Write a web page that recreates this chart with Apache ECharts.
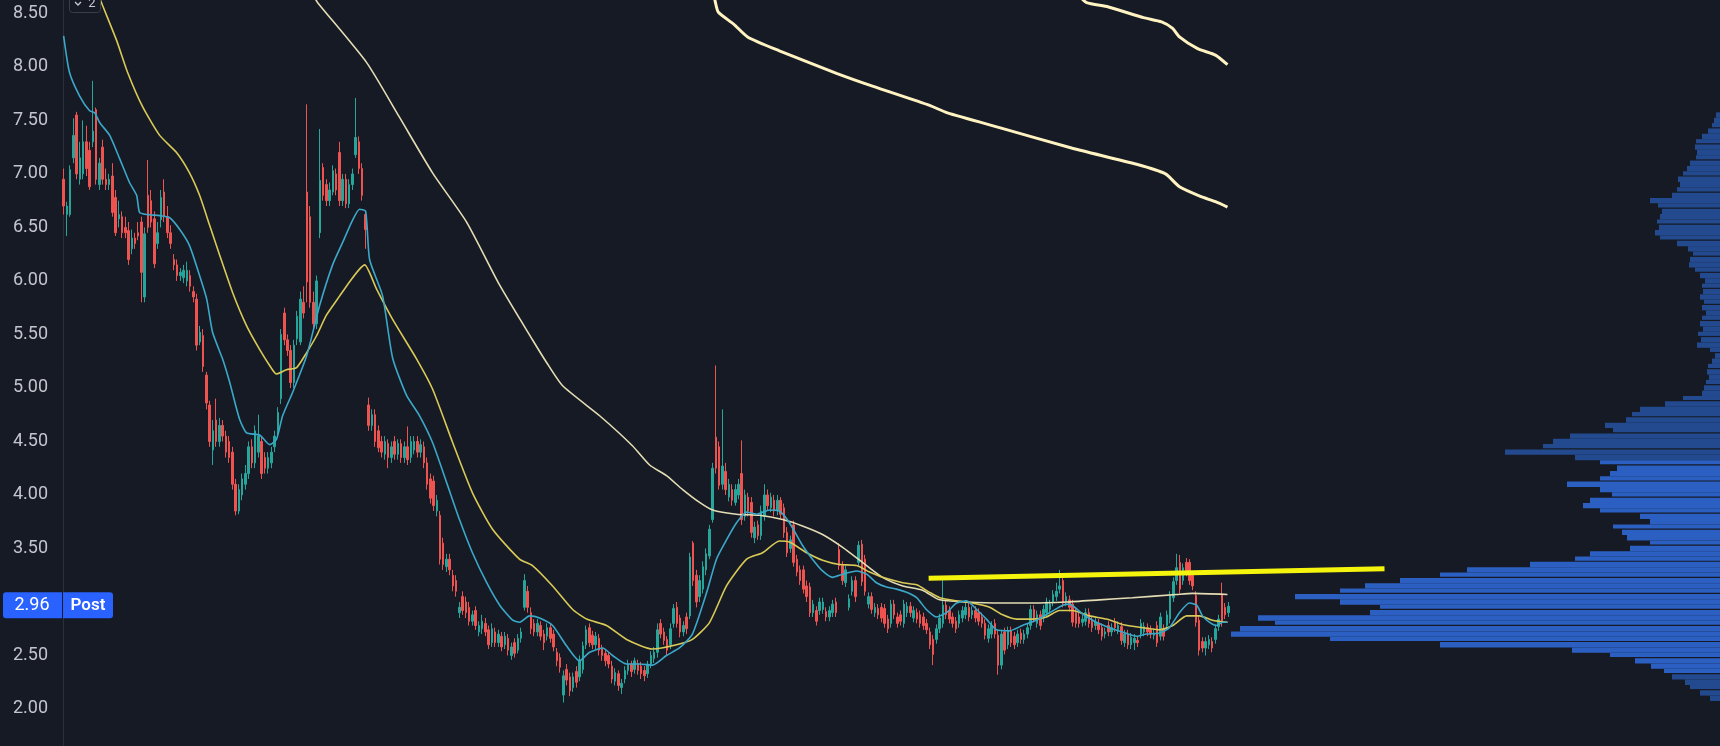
<!DOCTYPE html>
<html><head><meta charset="utf-8">
<script src="https://cdn.jsdelivr.net/npm/echarts@6/dist/echarts.min.js"></script>
<style>html,body{margin:0;padding:0;background:#161a25;}#c{width:1720px;height:746px;}</style>
</head><body><div id="c"></div>
<script>
// ---- price scale (tick labels every 0.50) ----
const priceMin = 1.5, priceMax = 8.625, priceStep = 0.5;
const slotCount = 511;               // time slots on the x axis (candles + empty future space)
const lastPrice = 2.96;
const sessionTag = 'Post';
const paneBadge = '2';

// ---- candles: [open, close, low, high] ----
const candles = [
[6.95,6.70,6.62,7.05],[6.62,6.70,6.42,6.74],[6.62,7.04,6.60,7.08],[7.15,7.36,7.10,7.52],[7.55,7.00,6.95,7.58],
[6.95,7.15,6.90,7.30],[7.00,7.30,6.95,7.50],[7.30,7.05,6.98,7.45],[7.22,6.88,6.85,7.30],[7.30,7.40,7.25,7.87],
[7.60,6.95,6.90,7.62],[6.90,7.10,6.85,7.15],[7.25,6.95,6.90,7.32],[6.95,6.90,6.85,7.05],[6.90,6.95,6.85,7.00],
[6.98,6.64,6.60,7.10],[6.78,6.45,6.42,6.85],[6.58,6.62,6.50,6.75],[6.60,6.45,6.40,6.65],[6.50,6.45,6.40,6.60],
[6.47,6.20,6.15,6.55],[6.30,6.40,6.25,6.48],[6.40,6.35,6.30,6.45],[6.45,6.42,6.38,6.55],[6.55,6.08,5.80,6.60],
[5.85,6.44,5.80,6.50],[6.80,6.50,6.45,7.13],[6.75,6.55,6.50,6.85],[6.58,6.16,6.12,6.65],[6.35,6.45,6.30,6.55],
[6.57,6.78,6.50,6.85],[6.83,6.60,6.55,6.95],[6.60,6.45,6.40,6.70],[6.45,6.35,6.30,6.52],[6.20,6.15,6.10,6.25],
[6.15,6.05,6.00,6.20],[6.05,6.08,6.00,6.12],[6.03,6.10,5.98,6.15],[6.00,6.10,5.95,6.18],[6.05,5.95,5.90,6.10],
[5.90,5.85,5.80,5.95],[5.83,5.40,5.35,5.88],[5.43,5.52,5.40,5.58],[5.49,5.20,5.15,5.55],[5.12,4.86,4.80,5.15],
[4.84,4.50,4.45,4.88],[4.42,4.60,4.28,4.70],[4.70,4.50,4.45,4.90],[4.50,4.65,4.45,4.72],[4.65,4.55,4.50,4.70],
[4.55,4.40,4.35,4.60],[4.50,4.35,4.30,4.55],[4.40,4.10,4.05,4.45],[4.10,3.85,3.81,4.15],[3.85,4.05,3.82,4.10],
[4.00,4.15,3.95,4.20],[4.10,4.20,4.05,4.28],[4.20,4.45,4.15,4.50],[4.45,4.30,4.25,4.52],[4.30,4.60,4.25,4.65],
[4.40,4.55,4.35,4.75],[4.50,4.20,4.15,4.55],[4.35,4.25,4.20,4.40],[4.25,4.35,4.20,4.40],[4.30,4.40,4.25,4.45],
[4.45,4.55,4.40,4.60],[4.60,4.77,4.55,4.82],[4.90,5.50,4.85,5.55],[5.70,5.45,5.40,5.75],[5.45,5.35,5.30,5.50],
[5.35,5.05,5.00,5.40],[5.05,5.40,5.00,5.45],[5.46,5.67,5.40,5.72],[5.43,5.83,5.40,5.90],[5.80,5.70,5.65,5.95],
[6.83,5.99,5.80,7.65],[6.60,5.80,5.75,6.70],[5.80,5.60,5.55,5.90],[5.60,6.00,5.55,6.05],[6.45,6.94,6.40,7.42],
[7.06,6.80,6.75,7.10],[6.90,6.75,6.70,6.95],[6.75,6.85,6.70,6.92],[6.83,7.03,6.80,7.08],[7.00,6.85,6.80,7.05],
[7.20,6.75,6.70,7.30],[6.75,6.95,6.70,7.00],[6.95,6.72,6.68,7.00],[6.72,6.90,6.68,6.95],[6.90,7.00,6.85,7.05],
[7.18,7.34,7.15,7.71],[7.30,7.05,7.00,7.35],[7.05,6.80,6.75,7.10],[6.62,6.48,6.30,6.66],[4.84,4.65,4.60,4.91],
[4.65,4.75,4.60,4.80],[4.75,4.50,4.45,4.80],[4.60,4.44,4.40,4.65],[4.50,4.40,4.35,4.55],[4.38,4.50,4.33,4.55],
[4.48,4.35,4.25,4.52],[4.35,4.45,4.30,4.50],[4.50,4.38,4.33,4.55],[4.38,4.48,4.33,4.52],[4.48,4.35,4.30,4.52],
[4.35,4.45,4.30,4.50],[4.45,4.33,4.28,4.64],[4.35,4.50,4.30,4.55],[4.42,4.50,4.38,4.55],[4.50,4.40,4.35,4.55],
[4.40,4.47,4.35,4.52],[4.45,4.30,4.25,4.50],[4.30,4.10,4.05,4.35],[4.15,3.97,3.92,4.20],[4.13,3.90,3.85,4.18],
[3.85,3.95,3.80,4.00],[3.81,3.40,3.35,3.85],[3.55,3.35,3.30,3.60],[3.33,3.40,3.28,3.45],[3.40,3.30,3.25,3.45],
[3.25,3.15,3.10,3.30],[3.20,3.10,3.05,3.25],[2.90,2.95,2.85,3.00],[3.05,2.92,2.88,3.10],[3.00,2.90,2.85,3.05],
[2.95,2.82,2.78,3.00],[2.82,2.88,2.78,2.92],[2.92,2.78,2.74,2.96],[2.72,2.78,2.68,2.82],[2.75,2.82,2.70,2.88],
[2.80,2.72,2.68,2.85],[2.74,2.60,2.56,2.78],[2.62,2.75,2.58,2.80],[2.72,2.62,2.58,2.76],[2.62,2.70,2.58,2.74],
[2.68,2.58,2.54,2.72],[2.60,2.68,2.56,2.72],[2.66,2.55,2.50,2.70],[2.50,2.58,2.46,2.62],[2.62,2.52,2.48,2.66],
[2.55,2.66,2.52,2.70],[2.66,2.72,2.62,2.76],[2.95,3.20,2.92,3.26],[3.10,2.95,2.90,3.15],[2.90,2.75,2.70,2.95],
[2.80,2.72,2.68,2.84],[2.72,2.80,2.68,2.84],[2.78,2.68,2.64,2.82],[2.70,2.62,2.55,2.74],[2.68,2.76,2.64,2.80],
[2.76,2.66,2.62,2.80],[2.70,2.58,2.54,2.74],[2.53,2.45,2.40,2.57],[2.48,2.39,2.34,2.52],[2.13,2.31,2.06,2.36],
[2.37,2.27,2.22,2.42],[2.30,2.17,2.12,2.34],[2.20,2.30,2.16,2.34],[2.35,2.25,2.20,2.40],[2.30,2.45,2.26,2.50],
[2.37,2.59,2.33,2.63],[2.60,2.74,2.56,2.78],[2.76,2.62,2.58,2.80],[2.69,2.60,2.56,2.73],[2.60,2.68,2.56,2.72],
[2.66,2.55,2.50,2.70],[2.57,2.50,2.45,2.60],[2.52,2.45,2.40,2.55],[2.50,2.42,2.38,2.53],[2.40,2.28,2.24,2.45],
[2.26,2.34,2.22,2.38],[2.33,2.22,2.17,2.36],[2.20,2.24,2.14,2.28],[2.28,2.36,2.24,2.40],[2.36,2.42,2.32,2.46],
[2.42,2.35,2.30,2.45],[2.37,2.45,2.33,2.48],[2.42,2.36,2.32,2.46],[2.40,2.33,2.28,2.44],[2.36,2.31,2.26,2.40],
[2.33,2.42,2.29,2.45],[2.42,2.50,2.38,2.54],[2.47,2.53,2.43,2.58],[2.53,2.74,2.48,2.80],[2.80,2.70,2.66,2.84],
[2.72,2.64,2.60,2.76],[2.65,2.55,2.50,2.68],[2.60,2.75,2.56,2.80],[2.80,2.94,2.76,2.98],[2.95,2.80,2.76,3.00],
[2.85,2.72,2.67,2.88],[2.72,2.78,2.68,2.82],[2.86,2.75,2.70,2.90],[2.87,3.42,2.84,3.46],[3.55,3.20,3.15,3.57],
[3.25,3.00,2.95,3.30],[3.05,3.20,3.00,3.25],[3.12,3.33,3.08,3.38],[3.30,3.45,3.25,3.50],[3.43,3.68,3.40,3.72],
[3.77,4.25,3.74,4.30],[4.54,4.25,4.20,5.21],[4.45,4.09,4.05,4.50],[4.10,4.27,4.05,4.80],[4.22,4.05,4.00,4.30],
[3.98,4.10,3.94,4.15],[4.05,3.95,3.90,4.10],[3.93,4.05,3.90,4.10],[4.00,4.10,3.96,4.15],[4.20,3.77,3.72,4.51],
[3.80,4.00,3.76,4.05],[3.98,3.85,3.80,4.02],[3.93,3.65,3.60,3.98],[3.60,3.70,3.55,3.75],[3.72,3.62,3.58,3.76],
[3.62,3.85,3.58,3.90],[3.80,4.00,3.76,4.10],[4.00,3.90,3.85,4.05],[3.88,3.98,3.84,4.02],[3.95,3.85,3.80,4.00],
[3.85,3.95,3.81,4.00],[3.95,3.82,3.78,3.98],[3.88,3.65,3.60,3.92],[3.65,3.46,3.42,3.70],[3.50,3.58,3.46,3.62],
[3.72,3.37,3.33,3.76],[3.40,3.28,3.24,3.44],[3.30,3.20,3.16,3.34],[3.30,3.12,3.08,3.34],[3.15,3.05,3.00,3.20],
[3.14,2.90,2.86,3.18],[2.90,2.98,2.86,3.02],[2.92,2.82,2.78,2.96],[2.92,3.00,2.88,3.04],[2.93,3.00,2.89,3.04],
[2.91,2.86,2.82,2.95],[2.86,2.92,2.82,2.96],[2.90,2.98,2.86,3.02],[3.00,2.90,2.86,3.04],[3.49,3.34,3.30,3.55],
[3.34,3.20,3.16,3.38],[3.18,3.30,3.14,3.34],[2.95,3.03,2.92,3.07],[3.10,3.20,3.06,3.24],[3.20,3.05,3.00,3.24],
[3.37,3.53,3.33,3.57],[3.54,3.19,3.15,3.58],[3.40,3.10,3.06,3.44],[2.98,3.05,2.94,3.09],[3.05,2.93,2.89,3.09],
[2.90,2.95,2.86,2.99],[2.94,2.88,2.84,2.98],[2.95,2.85,2.81,2.99],[2.94,2.80,2.76,2.98],[2.84,2.75,2.71,2.88],
[2.80,2.98,2.76,3.02],[2.98,2.88,2.84,3.02],[2.86,2.80,2.76,2.90],[2.88,2.82,2.78,2.92],[2.80,2.98,2.76,3.02],
[2.90,2.96,2.86,3.00],[2.96,2.90,2.86,3.00],[2.85,2.92,2.81,2.96],[2.90,2.84,2.80,2.94],[2.88,2.80,2.76,2.92],
[2.86,2.78,2.74,2.90],[2.80,2.74,2.70,2.84],[2.72,2.60,2.56,2.76],[2.65,2.51,2.41,2.69],[2.65,2.75,2.61,2.79],
[2.75,2.85,2.71,2.89],[2.80,2.97,2.76,3.21],[2.97,2.88,2.84,3.01],[2.92,2.84,2.80,2.96],[2.86,2.80,2.76,2.90],
[2.82,2.75,2.71,2.86],[2.80,2.88,2.76,2.92],[2.85,2.92,2.81,2.96],[2.88,2.95,2.84,2.99],[2.95,2.86,2.82,2.99],
[2.88,2.92,2.84,2.96],[2.92,2.85,2.81,2.96],[2.90,2.82,2.78,2.94],[2.86,2.80,2.76,2.90],[2.80,2.69,2.65,2.84],
[2.66,2.75,2.62,2.79],[2.70,2.78,2.66,2.82],[2.80,2.70,2.66,2.84],[2.69,2.41,2.32,2.73],[2.41,2.70,2.37,2.74],
[2.72,2.55,2.51,2.76],[2.60,2.73,2.56,2.77],[2.73,2.62,2.58,2.77],[2.68,2.60,2.56,2.72],[2.62,2.70,2.58,2.74],
[2.71,2.65,2.61,2.75],[2.65,2.70,2.61,2.74],[2.70,2.76,2.66,2.80],[2.78,2.93,2.74,2.97],[2.93,2.85,2.81,2.97],
[2.80,2.88,2.76,2.92],[2.88,2.78,2.74,2.92],[2.85,2.93,2.81,2.97],[2.90,3.00,2.86,3.04],[2.93,2.98,2.89,3.02],
[3.00,3.07,2.96,3.11],[3.05,3.10,3.01,3.18],[3.12,3.15,3.08,3.30],[3.20,2.99,2.95,3.24],[3.00,3.05,2.96,3.09],
[3.02,2.95,2.91,3.06],[2.98,2.81,2.77,3.02],[2.90,2.80,2.76,2.94],[2.86,2.80,2.76,2.90],[2.81,2.84,2.77,2.88],
[2.82,2.90,2.78,2.94],[2.90,2.80,2.76,2.94],[2.82,2.76,2.72,2.86],[2.78,2.81,2.74,2.85],[2.80,2.74,2.70,2.84],
[2.76,2.68,2.64,2.80],[2.70,2.72,2.66,2.76],[2.78,2.72,2.68,2.82],[2.72,2.76,2.68,2.80],[2.81,2.76,2.72,2.85],
[2.74,2.78,2.70,2.82],[2.77,2.64,2.60,2.81],[2.62,2.70,2.58,2.74],[2.70,2.60,2.56,2.74],[2.60,2.67,2.56,2.71],
[2.62,2.66,2.55,2.70],[2.64,2.62,2.58,2.68],[2.70,2.80,2.66,2.84],[2.72,2.77,2.68,2.81],[2.76,2.72,2.68,2.80],
[2.74,2.70,2.66,2.78],[2.69,2.71,2.65,2.75],[2.78,2.62,2.58,2.82],[2.68,2.86,2.64,2.90],[2.75,2.68,2.64,2.79],
[2.78,2.88,2.74,2.92],[2.84,3.06,2.80,3.10],[3.04,3.19,3.00,3.23],[3.20,3.32,3.16,3.45],[3.37,3.12,3.08,3.44],
[3.20,3.32,3.16,3.36],[3.37,3.28,3.24,3.41],[3.37,3.20,3.16,3.40],[3.25,3.15,3.11,3.29],[3.06,2.81,2.77,3.10],
[2.83,2.55,2.50,2.87],[2.63,2.57,2.53,2.67],[2.57,2.63,2.50,2.67],[2.60,2.65,2.56,2.69],[2.63,2.57,2.53,2.67],
[2.65,2.75,2.61,2.79],[2.77,2.84,2.73,2.88],[3.07,2.81,2.77,3.18],[2.95,2.88,2.84,2.99],[2.90,2.96,2.86,3.00]
];

// ---- moving averages: [slot index, price] ----
const maFast = [
[0,8.29],[1.8,7.95],[4.9,7.73],[8,7.59],[9.6,7.57],[11.1,7.48],[14.2,7.36],[17.3,7.14],[20.3,6.92],[22.5,6.80],
[23.4,6.64],[25.6,6.62],[29.6,6.61],[32.7,6.59],[35.8,6.48],[38.8,6.33],[41.9,6.05],[44.1,5.83],[45.9,5.52],[49,5.27],
[51.2,5.05],[54.2,4.71],[56.4,4.58],[60.4,4.56],[63.5,4.47],[65.6,4.52],[67.5,4.74],[70.6,4.96],[74.9,5.30],[78.9,5.77],
[82.9,6.15],[86,6.36],[89.1,6.57],[91.2,6.67],[93.1,6.65],[94.3,6.20],[98.3,5.86],[101.4,5.28],[105.7,4.93],[109.7,4.74],
[113.7,4.49],[118,4.12],[122,3.77],[126,3.46],[130.4,3.18],[134.4,2.97],[138.4,2.83],[140.5,2.81],[143.6,2.87],[146.7,2.85],
[150.7,2.78],[155,2.59],[159,2.45],[162.1,2.53],[166.1,2.57],[169.2,2.50],[173.5,2.42],[177.5,2.42],[181.5,2.41],[185.8,2.50],
[189.8,2.57],[193.8,2.70],[198.2,3.09],[201.2,3.40],[204.3,3.58],[207.4,3.74],[210.5,3.84],[213.6,3.82],[217.6,3.86],[220.6,3.85],
[223.7,3.74],[227.7,3.53],[230.8,3.40],[233.9,3.29],[237,3.23],[240.1,3.26],[244.4,3.29],[247.5,3.26],[250.5,3.18],[253.6,3.14],
[256.7,3.12],[259.8,3.09],[262.9,3.04],[265.9,2.93],[269,2.86],[272.1,2.90],[275.2,2.99],[278.3,3.01],[281.4,2.93],[284.4,2.84],
[287.5,2.74],[291.5,2.73],[295.5,2.78],[299.8,2.83],[303.9,2.90],[307.9,2.97],[310,2.98],[314,2.89],[318.3,2.81],[322.3,2.76],
[326.3,2.72],[330.7,2.68],[333.7,2.70],[337.8,2.71],[340.8,2.76],[343.9,2.90],[347,2.99],[349.2,2.97],[351,2.87],[353.2,2.81],
[355.3,2.78],[357.2,2.81],[358.7,2.81]
];
const maMid = [
[10.5,8.70],[11.4,8.62],[16.3,8.25],[19.7,7.95],[24.3,7.63],[29.6,7.36],[34.8,7.20],[38.8,7.01],[41.9,6.80],[45,6.52],
[48.1,6.24],[52.1,5.89],[56.4,5.58],[60.4,5.36],[63.5,5.21],[65.6,5.13],[68.7,5.17],[71.8,5.19],[74.9,5.33],[78,5.49],
[81,5.68],[85.1,5.86],[88.1,5.99],[91.2,6.11],[92.8,6.15],[96.5,5.92],[101.4,5.64],[108.8,5.27],[113.7,4.99],[119.9,4.49],
[126,4.02],[132.2,3.68],[140.5,3.40],[144.5,3.34],[150.7,3.15],[156.9,2.93],[161.2,2.84],[167.3,2.78],[173.5,2.65],[181.5,2.56],
[188.9,2.60],[193.8,2.65],[199.1,2.81],[204.3,3.15],[210.5,3.40],[215.4,3.46],[220.6,3.57],[223.7,3.56],[229,3.46],[233.9,3.39],
[239.1,3.35],[244.4,3.34],[248.4,3.28],[252.4,3.23],[258.6,3.18],[262.9,3.16],[266.9,3.09],[270,3.04],[275.2,3.01],[280.1,2.99],
[285.4,2.95],[289.4,2.88],[293.7,2.84],[298.6,2.84],[302.9,2.86],[306.9,2.92],[310.9,2.92],[316.2,2.87],[321.4,2.84],[326.3,2.79],
[332.5,2.76],[337.8,2.74],[341.8,2.78],[346.1,2.87],[350.1,2.87],[354.1,2.83],[358.7,2.81]
];
const maSlow = [
[77.3,8.65],[78.3,8.60],[93.4,8.04],[103.5,7.53],[113.7,7.01],[124.2,6.55],[134.4,5.96],[144.5,5.45],[148.8,5.24],[153.8,5.02],
[165.2,4.74],[175.3,4.46],[180.6,4.28],[185.8,4.18],[190.8,4.05],[196,3.93],[200,3.86],[207.4,3.82],[214.5,3.81],[221.6,3.77],
[227.7,3.71],[233.9,3.63],[240.1,3.51],[246.2,3.37],[252.4,3.23],[258.6,3.15],[264.7,3.11],[270,3.02],[278.3,3.00],[288.4,2.99],
[298.6,2.99],[309.1,3.00],[319.3,3.02],[329.4,3.04],[343,3.07],[347.9,3.08],[358.7,3.07]
];
const upperA = [
[199.7,8.80],[200.9,8.60],[201.8,8.51],[206.5,8.40],[210.8,8.28],[220.6,8.15],[238.2,7.94],[249.3,7.82],[266.9,7.64],[272.4,7.57],
[288.7,7.43],[310.9,7.24],[330.7,7.09],[339.6,7.00],[343.9,6.88],[350.4,6.79],[355,6.74],[358.7,6.69]
];
const upperB = [
[313.1,8.66],[315.3,8.60],[322,8.56],[332.8,8.46],[338.4,8.42],[341.8,8.36],[343.9,8.28],[349.5,8.17],[355,8.11],[358.7,8.02]
];
const trendLine = [[266.6,3.222],[407.1,3.31]];

// ---- volume profile: [price level, relative volume] ----
const profileStep = 0.05;
const valueArea = [2.35, 4.30];
const profile = [
[7.55,0.8],[7.50,1.2],[7.45,1.6],[7.40,2.4],[7.35,3.6],[7.30,4.8],[7.25,5.0],[7.20,4.6],[7.15,4.8],[7.10,6.0],
[7.05,6.6],[7.00,7.4],[6.95,8.4],[6.90,8.0],[6.85,8.6],[6.80,9.6],[6.75,14.0],[6.70,12.4],[6.65,11.6],[6.60,12.0],
[6.55,12.6],[6.50,12.2],[6.45,13.0],[6.40,12.0],[6.35,8.6],[6.30,6.4],[6.25,5.4],[6.20,6.0],[6.15,6.2],[6.10,5.0],
[6.05,4.0],[6.00,3.0],[5.95,3.6],[5.90,3.4],[5.85,4.0],[5.80,3.2],[5.75,3.6],[5.70,2.8],[5.65,3.6],[5.60,4.0],
[5.55,3.4],[5.50,4.4],[5.45,3.8],[5.40,4.6],[5.35,2.0],[5.30,1.0],[5.25,1.6],[5.20,2.4],[5.15,2.6],[5.10,2.2],
[5.05,2.8],[5.00,3.2],[4.95,3.6],[4.90,7.4],[4.85,11.0],[4.80,16.0],[4.75,17.6],[4.70,18.8],[4.65,23.0],[4.60,21.4],
[4.55,30.0],[4.50,33.4],[4.45,35.4],[4.40,43.0],[4.35,29.0],[4.30,24.0],[4.25,20.6],[4.20,22.0],[4.15,24.0],[4.10,30.6],
[4.05,24.0],[4.00,21.6],[3.95,26.0],[3.90,27.4],[3.85,24.0],[3.80,16.0],[3.75,14.0],[3.70,21.4],[3.65,19.6],[3.60,18.6],
[3.55,14.0],[3.50,18.0],[3.45,26.0],[3.40,29.0],[3.35,38.0],[3.30,50.6],[3.25,56.0],[3.20,64.0],[3.15,71.0],[3.10,76.0],
[3.05,85.0],[3.00,76.0],[2.95,68.0],[2.90,70.0],[2.85,92.4],[2.80,89.0],[2.75,96.0],[2.70,97.8],[2.65,78.0],[2.60,56.0],
[2.55,29.6],[2.50,22.0],[2.45,17.0],[2.40,13.8],[2.35,11.2],[2.30,9.6],[2.25,7.0],[2.20,6.0],[2.15,4.0],[2.10,2.0]
];

// ---- build chart ----
const slots = [];
for (let i = 0; i < slotCount; i++) slots.push(String(i));

const chart = echarts.init(document.getElementById('c'), null, {renderer: 'canvas'});
const FONT = 'Roboto, "Noto Sans", sans-serif';
const lineSeries = (name, data, color, width) => ({
  name, type: 'line', xAxisIndex: 1, yAxisIndex: 0, data, showSymbol: false, symbol: 'none',
  smooth: 0.2, lineStyle: {color, width}, z: 3, silent: true
});

const option = {
  backgroundColor: '#161a25',
  animation: false,
  grid: [
    {left: 62, right: 0, top: 0, height: 762.5, containLabel: false, outerBoundsMode: 'none'},
    {left: 1220, right: 0, top: 0, height: 762.5, containLabel: false, outerBoundsMode: 'none'}
  ],
  xAxis: [
    {type: 'category', data: slots, gridIndex: 0, boundaryGap: true, show: false},
    {type: 'value', gridIndex: 0, min: -0.5, max: slotCount - 0.5, show: false},
    {type: 'value', gridIndex: 1, min: 0, max: 100, inverse: true, show: false}
  ],
  yAxis: [
    {type: 'value', gridIndex: 0, min: priceMin, max: priceMax, interval: priceStep, position: 'left',
     axisLine: {show: true, lineStyle: {color: '#2c303b', width: 1}},
     axisTick: {show: false}, splitLine: {show: false},
     axisLabel: {color: '#c2c5cc', fontSize: 18, fontFamily: FONT, margin: 14,
       formatter: v => v.toFixed(2)}},
    {type: 'value', gridIndex: 1, min: priceMin, max: priceMax, show: false}
  ],
  series: [
    {
      name: 'profile', type: 'custom', xAxisIndex: 2, yAxisIndex: 1, z: 1, silent: true,
      data: profile.map(r => [r[1], r[0]]),
      encode: {x: 0, y: 1},
      renderItem: function (params, api) {
        const vol = api.value(0), p = api.value(1);
        const a = api.coord([vol, p + profileStep / 2]);
        const b = api.coord([0, p - profileStep / 2]);
        const inVA = p >= valueArea[0] - 1e-9 && p <= valueArea[1] + 1e-9;
        const gap = (params.dataIndex % 3 === 2) ? 1.2 : 0;
        return {type: 'rect', shape: {x: a[0], y: a[1], width: b[0] - a[0], height: b[1] - a[1] - gap},
                style: {fill: inVA ? '#2b5fc2' : '#234a8e'}};
      }
    },
    {
      name: 'price', type: 'candlestick', xAxisIndex: 0, yAxisIndex: 0, data: candles, z: 2,
      barWidth: 2, silent: true,
      itemStyle: {color: '#26a69a', color0: '#ef5350', borderColor: '#26a69a', borderColor0: '#ef5350', borderWidth: 1}
    },
    lineSeries('maSlow', maSlow, '#e4ddb4', 1.6),
    lineSeries('maMid', maMid, '#d9c957', 1.6),
    lineSeries('maFast', maFast, '#3ca8c9', 1.6),
    lineSeries('upperA', upperA, '#fff3c2', 3),
    lineSeries('upperB', upperB, '#fff3c2', 3),
    Object.assign(lineSeries('trend', trendLine, '#f4f40c', 5), {smooth: false})
  ]
};
chart.setOption(option);

// price tag boxes placed on the price scale
const yLast = chart.convertToPixel({yAxisIndex: 0}, lastPrice);
chart.setOption({
  graphic: [
    {type: 'rect', shape: {x: 3, y: yLast - 14, width: 59, height: 26, r: [3, 0, 0, 3]}, style: {fill: '#2962ff'}, z: 10},
    {type: 'text', x: 32, y: yLast - 1, style: {text: lastPrice.toFixed(2), fill: '#ffffff', font: '18px ' + FONT, align: 'center', verticalAlign: 'middle'}, z: 11},
    {type: 'rect', shape: {x: 63, y: yLast - 14, width: 50, height: 26, r: [0, 3, 3, 0]}, style: {fill: '#2962ff'}, z: 10},
    {type: 'text', x: 88, y: yLast - 1, style: {text: sessionTag, fill: '#ffffff', font: '600 17px ' + FONT, align: 'center', verticalAlign: 'middle'}, z: 11},
    {type: 'rect', shape: {x: 69.5, y: -4.5, width: 31, height: 17, r: 3}, style: {fill: '#161a25', stroke: '#3a3e4a', lineWidth: 1}, z: 10},
    {type: 'polyline', shape: {points: [[75, 2], [78, 5], [81, 2]]}, style: {stroke: '#c8cad0', lineWidth: 1.3, fill: null}, z: 11},
    {type: 'text', x: 92, y: 4, style: {text: paneBadge, fill: '#c8cad0', font: '13px ' + FONT, align: 'center', verticalAlign: 'middle'}, z: 11}
  ]
});
</script>
</body></html>
